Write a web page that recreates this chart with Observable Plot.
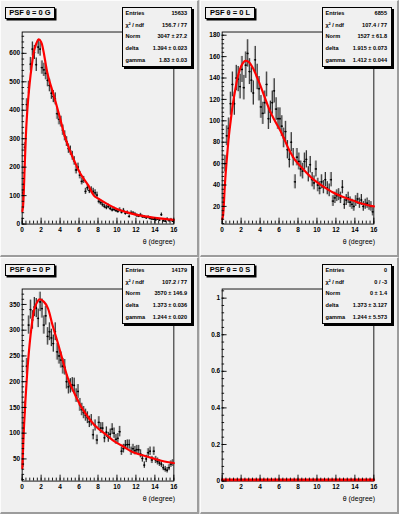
<!DOCTYPE html>
<html><head><meta charset="utf-8">
<script src="https://cdn.jsdelivr.net/npm/d3@7"></script>
<script src="https://cdn.jsdelivr.net/npm/@observablehq/plot@0.6"></script>
<style>
body{margin:0;background:#fff;}
#canvas{position:relative;width:399px;height:514px;background:#d8d8d8;overflow:hidden;font-family:"Liberation Sans",Arial,Helvetica,sans-serif;}
.pad{position:absolute;width:199px;height:257px;background:#f0f0f0;box-sizing:border-box;border-top:1px solid #fcfcfc;border-left:1px solid #fcfcfc;border-right:2px solid #9c9c9c;border-bottom:2px solid #9c9c9c;}
.pad svg{position:absolute;left:-1px;top:-1px;}
.ttl{position:absolute;left:4px;top:6px;width:50px;height:12px;box-sizing:border-box;border:1px solid #000;box-shadow:1.5px 1.5px 0 #000;background:#f0f0f0;font-weight:bold;font-size:7.5px;line-height:10px;text-align:center;white-space:nowrap;color:#000;}
.stat{position:absolute;left:121px;top:5.5px;width:70px;height:60px;box-sizing:border-box;border:1px solid #000;box-shadow:2px 2px 0 #000;background:#f0f0f0;color:#000;}
.row{height:11.6px;display:flex;justify-content:space-between;align-items:center;padding:0 4px 0 2.5px;font-size:5.6px;font-weight:bold;white-space:nowrap;}
.xt{position:absolute;right:22px;top:237px;font-size:7px;color:#000;white-space:nowrap;}
</style>
</head><body>
<div id="canvas"></div>
<script>
// ---- data ----
const theta = [0.1,0.3,0.5,0.7,0.9,1.1,1.3,1.5,1.7,1.9,2.1,2.3,2.5,2.7,2.9,3.1,3.3,3.5,3.7,3.9,
4.1,4.3,4.5,4.7,4.9,5.1,5.3,5.5,5.7,5.9,6.1,6.3,6.5,6.7,6.9,7.1,7.3,7.5,7.7,7.9,
8.1,8.3,8.5,8.7,8.9,9.1,9.3,9.5,9.7,9.9,10.1,10.3,10.5,10.7,10.9,11.1,11.3,11.5,11.7,11.9,
12.1,12.3,12.5,12.7,12.9,13.1,13.3,13.5,13.7,13.9,14.1,14.3,14.5,14.7,14.9,15.1,15.3,15.5,15.7,15.9];

const countsG = [110,270,420,480,562,615,603,560,622,615,
550,542,530,505,487,460,448,440,388,368,
360,330,310,290,265,258,240,222,190,200,
172,150,155,115,128,118,120,115,110,102,
80,75,68,62,58,62,55,50,52,48,
45,50,42,48,38,40,27,40,38,35,
30,28,32,26,25,22,24,20,18,17,
15,17,14,33,12,10,18,12,16,10];

const countsL = [14,60,86,93,116,134,116,140,139,132,
148,131,152,163,146,138,126,157,141,130,
113,107,117,134,102,108,117,128,111,102,
102,95,84,90,73,64,80,66,43,66,
62,55,53,62,64,50,59,45,42,55,
40,37,43,38,45,37,35,45,25,28,
30,31,28,38,22,26,28,24,22,20,
25,27,23,26,20,22,23,21,20,15];

const countsP = [40,150,230,310,340,320,345,343,323,355,
342,310,328,288,297,285,274,297,258,250,
242,230,228,200,190,192,194,193,173,181,
155,146,140,135,130,122,125,97,115,87,
121,110,110,91,102,92,98,108,100,88,
90,103,65,70,77,78,78,65,70,66,
68,68,60,51,38,50,62,65,48,65,
48,45,42,40,33,30,28,33,40,42];

const countsS = [];

// fitted curves
const fitGT = [0.02,0.1,0.28,0.45,0.63,0.98,1.32,1.74,2.0,2.7,3.4,4.0,4.44,5.0,5.5,6.18,7.0,7.57,8.0,9.0,10.0,11.0,12.0,13.0,14.0,15.0,16.0];
const fitGV = [45,65,215,350,437,548,617,649,640,525,445,372,315,262,222,175,135,100,90,70,53,42,33,27,22,18,15];
const fitLT = [0.02,0.1,0.3,0.5,0.7,0.9,1.1,1.4,1.7,2.0,2.4,2.8,3.2,3.9,4.45,5.0,5.5,6.3,7.0,7.57,8.43,9.65,10.6,11.7,12.7,13.8,14.8,16.0];
const fitLV = [8,12,42,65,85,100,114,130,143,151,156,155,150,136,123,110,101,88,74,65,56,45,39,33,29,25.5,22.5,20];
const fitPT = [0.02,0.2,0.4,0.63,0.98,1.32,1.84,2.3,2.71,3.2,3.75,4.3,4.8,5.5,6.2,7.0,7.57,8.1,9.0,9.65,10.5,11.7,12.7,13.8,14.8,16.0];
const fitPV = [32,115,180,241,305,343,360,355,343,310,276,240,208,178,152,130,117,108,95,85,76,63,57,51,46,42];
const fitST = [0,16];
const fitSV = [0,0];

const xMajor = [0,2,4,6,8,10,12,14,16];
const yMajorG = [0,100,200,300,400,500,600];
const yMajorL = [20,40,60,80,100,120,140,160,180];
const yMajorP = [50,100,150,200,250,300,350];
const yMajorS = [0,0.2,0.4,0.6,0.8,1];

const titles = ["PSF θ = 0 G","PSF θ = 0 L","PSF θ = 0 P","PSF θ = 0 S"];
const statLabels = ["Entries","χ² / ndf","Norm","delta","gamma"];
const statG = ["15633","156.7 / 77","3047 ± 27.2","1.394 ± 0.023","1.83 ± 0.03"];
const statL = ["6855","107.4 / 77","1527 ± 61.8","1.915 ± 0.073","1.412 ± 0.044"];
const statP = ["14179","107.2 / 77","3570 ± 146.9","1.373 ± 0.036","1.244 ± 0.020"];
const statS = ["0","0 / -3","0 ± 1.4","1.373 ± 3.127","1.244 ± 5.573"];

// ---- drawing ----
const W=199, H=257, ML=22, MR=23, MT=32, MB=30;
const FW=W-ML-MR, FH=H-MT-MB;

function drawPad(left, top, cfg){
  const pad = document.createElement("div");
  pad.className="pad"; pad.style.left=left+"px"; pad.style.top=top+"px";
  const pts = cfg.counts.map((v,i)=>({t:theta[i], v, e:Math.sqrt(v)}));
  const fit = cfg.fitT.map((t,i)=>({t, v:cfg.fitV[i]}));
  const ys = (cfg.yMajor[1]-cfg.yMajor[0])/5;
  const yMinor = d3.range(Math.ceil(cfg.ydom[0]/ys)*ys, cfg.ydom[1], ys).map(d=>+d.toFixed(6));
  const xMinor = d3.range(0, 16.01, 0.4).map(d=>+d.toFixed(3));
  const svg = Plot.plot({
    width:W, height:H, marginLeft:ML, marginRight:MR, marginTop:MT, marginBottom:MB,
    x:{domain:[0,16]}, y:{domain:cfg.ydom},
    style:{background:"transparent", fontFamily:"'Liberation Sans',Arial,Helvetica,sans-serif", fontSize:"6.6px", fontWeight:"bold", color:"#000", overflow:"visible"},
    marks:[
      Plot.rect(pts,{x1:d=>d.t-0.1, x2:d=>d.t+0.1, y1:d=>d.v-d.e, y2:d=>d.v+d.e, fill:"#b6b6b6", clip:true}),
      Plot.ruleX(pts,{x:"t", y1:d=>d.v-d.e, y2:d=>d.v+d.e, stroke:"#000", strokeWidth:0.75, clip:true}),
      Plot.ruleY(pts,{y:"v", x1:d=>d.t-0.1, x2:d=>d.t+0.1, stroke:"#000", strokeWidth:0.75, clip:true}),
      Plot.dot(pts,{x:"t", y:"v", r:0.9, fill:"#000", stroke:null}),
      Plot.frame({stroke:"#000", strokeWidth:0.9}),
      Plot.line(fit,{x:"t", y:"v", stroke:"#ff0000", strokeWidth:cfg.lineW || 2.2, curve:"catmull-rom", dy: cfg.lineDy || 0}),
      Plot.tickX(xMajor,{insetTop:FH-6, stroke:"#000", strokeWidth:0.9}),
      Plot.tickX(xMinor,{insetTop:FH-3, stroke:"#000", strokeWidth:0.9}),
      Plot.tickY(cfg.yMajor,{insetRight:FW-5, stroke:"#000", strokeWidth:0.9}),
      Plot.tickY(yMinor,{insetRight:FW-2.5, stroke:"#000", strokeWidth:0.9}),
      Plot.axisX({ticks:xMajor, tickSize:0, tickPadding:3, label:null, tickFormat:d=>String(d)}),
      Plot.axisY({ticks:cfg.yMajor, tickSize:0, tickPadding:2, label:null, tickFormat:d=>String(d)})
    ]
  });
  pad.appendChild(svg);
  const ttl = document.createElement("div"); ttl.className="ttl"; ttl.textContent=cfg.title; pad.appendChild(ttl);
  const st = document.createElement("div"); st.className="stat";
  statLabels.forEach((lab,i)=>{
    const r=document.createElement("div"); r.className="row";
    const a=document.createElement("span"); a.textContent=lab;
    const b=document.createElement("span"); b.textContent=cfg.stat[i];
    r.appendChild(a); r.appendChild(b); st.appendChild(r);
  });
  pad.appendChild(st);
  const xt=document.createElement("div"); xt.className="xt"; xt.textContent="θ (degree)"; pad.appendChild(xt);
  document.getElementById("canvas").appendChild(pad);
}

drawPad(0,0,{counts:countsG, fitT:fitGT, fitV:fitGV, ydom:[0,675], yMajor:yMajorG, title:titles[0], stat:statG});
drawPad(200,0,{counts:countsL, fitT:fitLT, fitV:fitLV, ydom:[3.5,183], yMajor:yMajorL, title:titles[1], stat:statL});
drawPad(0,257,{counts:countsP, fitT:fitPT, fitV:fitPV, ydom:[7,380], yMajor:yMajorP, title:titles[2], stat:statP});
drawPad(200,257,{counts:countsS, fitT:fitST, fitV:fitSV, ydom:[0,1.05], yMajor:yMajorS, title:titles[3], stat:statS, lineDy:-1.2, lineW:2.6});
</script>
</body></html>
